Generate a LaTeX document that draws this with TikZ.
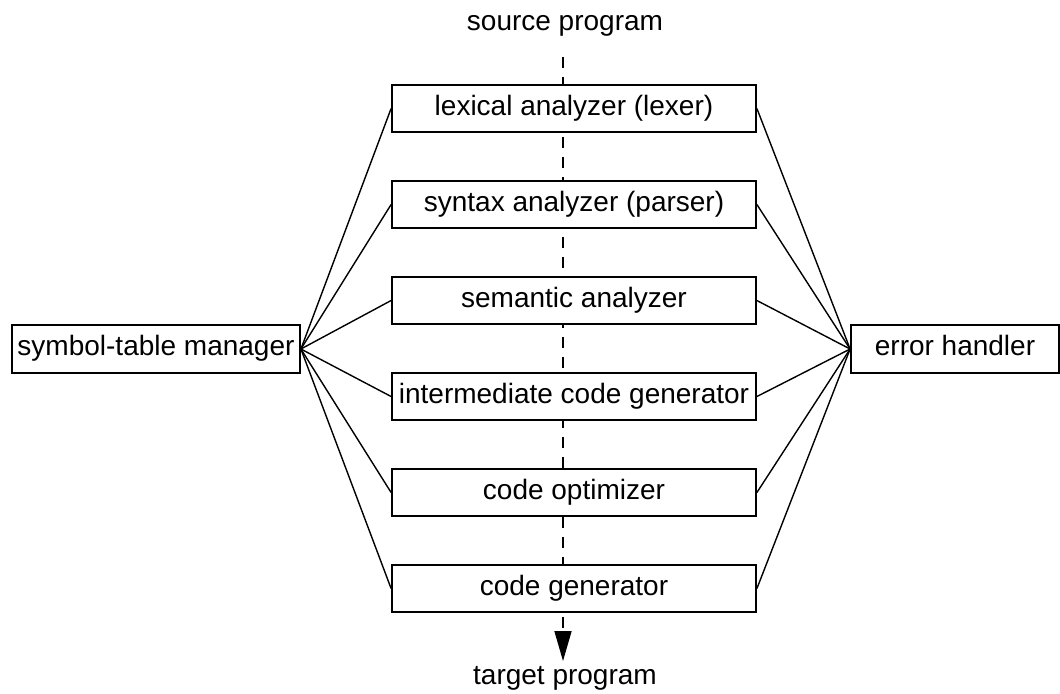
\documentclass[tikz,border=0pt]{standalone}
\usepackage{fontspec}
\setmainfont{Liberation Sans}
\usetikzlibrary{arrows.meta}
\begin{document}
\begin{tikzpicture}[x=0.5pt,y=-0.5pt,
  phase/.style={draw,line width=0.9pt,fill=white,minimum width=182pt,minimum height=23.5pt,inner sep=0pt,text height=0.78em,text depth=0.1em,font=\fontsize{14}{16}\selectfont},
  side/.style={draw,line width=0.9pt,fill=white,minimum height=24pt,inner sep=0pt,text height=0.78em,text depth=0.1em,font=\fontsize{14}{16}\selectfont},
  lbl/.style={anchor=base,font=\fontsize{14}{16}\selectfont},
  conn/.style={line width=0.7pt}]
\useasboundingbox (0,0) rectangle (1060,693);
\node[lbl] (src) at (565,30) {source program};
\node[lbl] (tgt) at (565,684) {target program};
\coordinate (dtop) at (563,57);
\coordinate (dbot) at (563,661);
\draw[line width=0.8pt,dash pattern=on 5.5pt off 4.5pt,-{Triangle[length=15pt,width=8.5pt]}] (dtop) -- (dbot);
\node[phase] (lex) at (574,108.5) {lexical analyzer (lexer)};
\node[phase] (syn) at (574,204.5) {syntax analyzer (parser)};
\node[phase] (sem) at (574,300.5) {semantic analyzer};
\node[phase] (icg) at (574,396.5) {intermediate code generator};
\node[phase] (opt) at (574,492.5) {code optimizer};
\node[phase] (gen) at (574,588.5) {code generator};
\node[side,minimum width=144pt] (stm) at (156,349) {symbol-table manager};
\node[side,minimum width=104pt] (err) at (955,349) {error handler};
\foreach \b in {lex,syn,sem,icg,opt,gen}{
  \draw[conn] (stm.east) -- (\b.west);
  \draw[conn] (err.west) -- (\b.east);
}
\end{tikzpicture}
\end{document}
